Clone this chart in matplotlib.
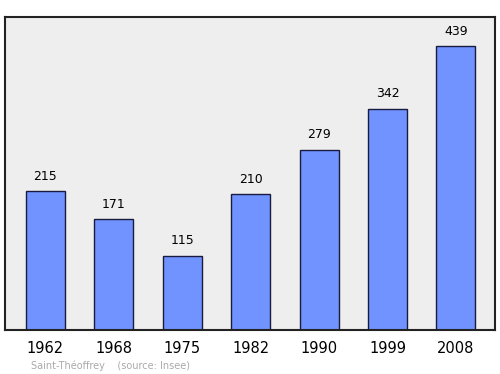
import matplotlib
matplotlib.use("Agg")
import matplotlib.pyplot as plt

years = ["1962", "1968", "1975", "1982", "1990", "1999", "2008"]
population = [215, 171, 115, 210, 279, 342, 439]

fig = plt.figure(figsize=(5, 3.74), dpi=100)
ax = fig.add_axes([0.01, 0.1176, 0.98, 0.837])
ax.set_facecolor("#eeeeee")
x = list(range(len(years)))
ax.bar(x, population, width=0.57, color="#7093ff", edgecolor="#1a1a40", linewidth=1.0, zorder=2)
for xi, v in zip(x, population):
    ax.annotate(str(v), (xi, v), xytext=(0, 6), textcoords="offset points",
                ha="center", va="bottom", fontsize=9, color="#000000")
ax.set_xlim(-0.59, 6.57)
ax.set_ylim(0, 484)
ax.set_xticks(x)
ax.set_xticklabels(years, fontsize=10.5)
ax.tick_params(axis="x", length=0, pad=8)
ax.set_yticks([])
for s in ax.spines.values():
    s.set_linewidth(1.5)
    s.set_color("#222222")
fig.text(0.062, 0.014, "Saint-Théoffrey    (source: Insee)", fontsize=7, color="#aaaaaa")
fig.savefig("out.png", dpi=100)
